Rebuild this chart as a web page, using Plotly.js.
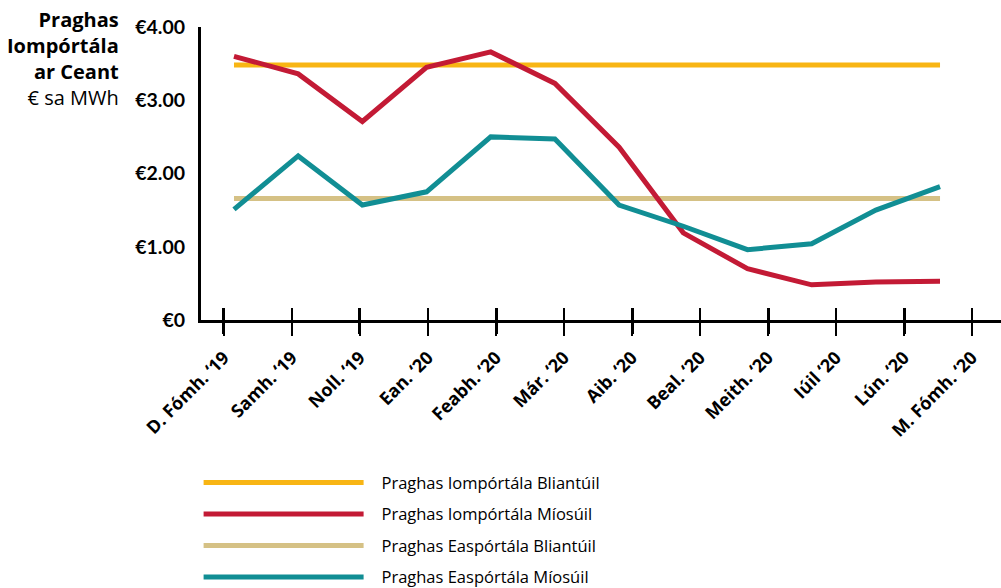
<!DOCTYPE html>
<html>
<head>
<meta charset="utf-8">
<script src="https://cdn.plot.ly/plotly-3.0.1.min.js"></script>
<style>
  body { margin: 0; background: #fff; }
  #chart { width: 1001px; height: 588px; }
</style>
</head>
<body>
<div id="chart"></div>
<script>
// months, as the data axis sees them
const months = ["Sep19", "Oct19", "Nov19", "Dec19", "Jan20", "Feb20", "Mar20", "Apr20", "May20", "Jun20", "Jul20", "Aug20"];
// tick labels on the category axis
const monthLabels = ["D. Fómh. ‘19", "Samh. ‘19", "Noll. ‘19", "Ean. ‘20", "Feabh. ‘20", "Már. ‘20",
                     "Aib. ‘20", "Beal. ‘20", "Meith. ‘20", "Iúil ‘20", "Lún. ‘20", "M. Fómh. ‘20"];
const tickIdx = [0, 1, 2, 3, 4, 5, 6, 7, 8, 9, 10, 11];
const majorIdx = [0, 2, 4, 6, 8, 10];

const importAnnual = [3.48, 3.48, 3.48, 3.48, 3.48, 3.48, 3.48, 3.48, 3.48, 3.48, 3.48, 3.48];
const importMonthly = [3.60, 3.36, 2.71, 3.45, 3.66, 3.23, 2.36, 1.19, 0.70, 0.48, 0.52, 0.53];
const exportAnnual = [1.66, 1.66, 1.66, 1.66, 1.66, 1.66, 1.66, 1.66, 1.66, 1.66, 1.66, 1.66];
const exportMonthly = [1.51, 2.24, 1.57, 1.75, 2.50, 2.47, 1.57, 1.28, 0.96, 1.04, 1.50, 1.82];

const yVals = [0, 1, 2, 3, 4];
const yLabels = ["€0", "€1.00", "€2.00", "€3.00", "€4.00"];

const FONT = "Lato, 'Noto Sans', sans-serif";
const FONT2 = "'Open Sans', 'Noto Sans', sans-serif";

function line(name, y, color, rank) {
  return {
    x: months, y: y, name: "\u00a0\u00a0\u00a0" + name, type: "scatter", mode: "lines",
    xaxis: "x2", yaxis: "y",
    line: { color: color, width: 5 },
    legendrank: rank, legendgroup: name,
    hoverinfo: "skip"
  };
}

// empty traces so the tick-only axes get drawn
function axisHolder(ax) {
  return { x: [], y: [], xaxis: ax, yaxis: "y", type: "scatter", mode: "lines", showlegend: false, hoverinfo: "skip" };
}

let data = [
  axisHolder("x"), axisHolder("x3"), axisHolder("x4"), axisHolder("x5"),
  line("Praghas Iompórtála Bliantúil", importAnnual, "#F8B514", 1),
  line("Praghas Easpórtála Bliantúil", exportAnnual, "#D5C185", 3),
  line("Praghas Iompórtála Míosúil", importMonthly, "#C31A35", 2),
  line("Praghas Easpórtála Míosúil", exportMonthly, "#118E94", 4)
];

const tickRange = [-0.338, 11.426];

function tickAxis(vals, dir, width) {
  return {
    overlaying: "x", type: "linear", range: tickRange,
    tickmode: "array", tickvals: vals, showticklabels: false,
    ticks: dir, ticklen: dir === "inside" ? 12 : 13, tickwidth: width, tickcolor: "#000",
    showline: false, showgrid: false, zeroline: false, fixedrange: true
  };
}

let layout = {
  width: 1001, height: 588,
  margin: { l: 201, r: 0, t: 27, b: 268, autoexpand: false },
  paper_bgcolor: "#fff", plot_bgcolor: "#fff",
  font: { family: FONT, color: "#000" },
  showlegend: true,
  legend: {
    x: -0.003, y: -0.496, xanchor: "left", yanchor: "top",
    font: { family: FONT2, size: 16.5, color: "#000" },
    traceorder: "grouped", tracegroupgap: 7, itemwidth: 160
  },
  xaxis: {
    type: "linear", range: tickRange,
    tickmode: "array", tickvals: tickIdx, ticktext: monthLabels,
    tickangle: -45, ticks: "outside", ticklen: 13, tickwidth: 1.5, tickcolor: "#000",
    ticklabelstandoff: 4,
    tickfont: { family: FONT2, size: 18, color: "#000", weight: "bold" },
    showline: true, linewidth: 3, linecolor: "#000",
    showgrid: false, zeroline: false, fixedrange: true
  },
  xaxis3: tickAxis(majorIdx, "outside", 3),
  xaxis4: tickAxis(tickIdx, "inside", 1.5),
  xaxis5: tickAxis(majorIdx, "inside", 3),
  xaxis2: {
    overlaying: "x", type: "category", categoryarray: months,
    range: [-0.514, 11.95], visible: false, fixedrange: true
  },
  yaxis: {
    range: [0, 4], tickmode: "array", tickvals: yVals, ticktext: yLabels,
    ticks: "", ticklabelstandoff: 9,
    tickfont: { family: FONT, size: 19.5, color: "#000", weight: "bold" },
    showline: true, linewidth: 3, linecolor: "#000",
    showgrid: false, zeroline: false, fixedrange: true
  },
  annotations: [{
    xref: "paper", yref: "paper", x: -0.1, y: 1.08, xanchor: "right", yanchor: "top",
    align: "right", showarrow: false,
    text: "<b>Praghas</b><br><b>Iompórtála</b><br><b>ar Ceant</b><br>€ sa MWh",
    font: { family: FONT2, size: 20, color: "#000" }
  }]
};

Plotly.newPlot("chart", data, layout, { displayModeBar: false, staticPlot: true });
</script>
</body>
</html>
